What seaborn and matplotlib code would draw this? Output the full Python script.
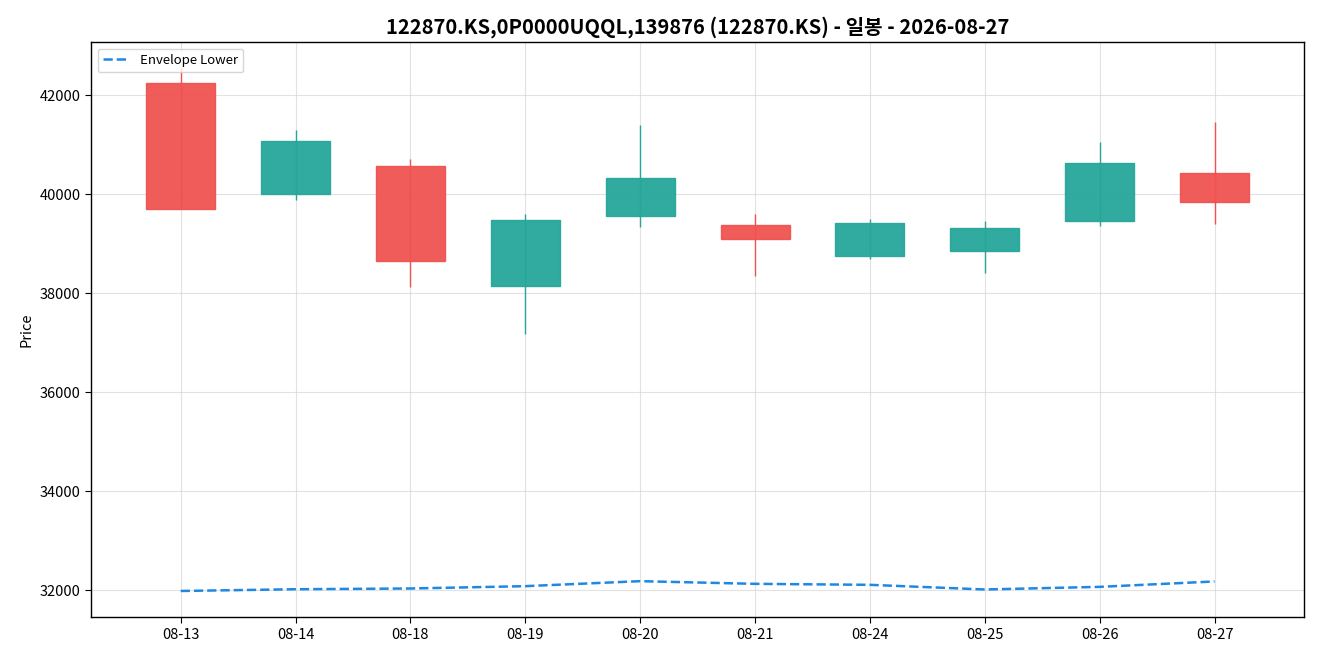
import matplotlib
matplotlib.use("Agg")
import matplotlib.pyplot as plt
import seaborn as sns
import numpy as np
import pandas as pd

dates = ["08-13", "08-14", "08-18", "08-19", "08-20", "08-21", "08-24", "08-25", "08-26", "08-27"]
open_ = [42250, 40000, 40560, 38140, 39550, 39370, 38750, 38850, 39450, 40420]
close = [39700, 41070, 38650, 39470, 40320, 39090, 39410, 39310, 40620, 39850]
high = [42540, 41300, 40710, 39600, 41400, 39600, 39500, 39460, 41050, 41460]
low = [39700, 39890, 38130, 37180, 39340, 38340, 38690, 38400, 39350, 39390]
env_lower = [31990, 32025, 32040, 32087, 32188, 32134, 32114, 32020, 32073, 32182]

sns.set_style("white")
plt.rcParams['font.family'] = ['Noto Sans CJK KR', 'DejaVu Sans']
plt.rcParams['text.color'] = 'black'
plt.rcParams['axes.labelcolor'] = 'black'
plt.rcParams['xtick.color'] = 'black'
plt.rcParams['ytick.color'] = 'black'

UP = "#26a69a"
DOWN = "#ef5350"

df = pd.DataFrame({"date": dates, "open": open_, "close": close,
                   "high": high, "low": low, "env": env_lower})
df["x"] = np.arange(len(df))

fig, ax = plt.subplots(figsize=(13.2, 6.6), dpi=100)

colors = [UP if c >= o else DOWN for o, c in zip(df["open"], df["close"])]
bottoms = np.minimum(df["open"], df["close"])
heights = np.abs(df["close"] - df["open"])

ax.vlines(df["x"], df["low"], df["high"], colors=colors, linewidth=1, zorder=2)
ax.bar(df["x"], heights, bottom=bottoms, width=0.6, color=colors,
       edgecolor=colors, linewidth=1, alpha=0.95, zorder=3)

sns.lineplot(data=df, x="x", y="env", ax=ax, color="#1e88e5", linestyle="--",
             linewidth=1.8, label="Envelope Lower", zorder=4)

ax.set_xticks(df["x"])
ax.set_xticklabels(dates)
ax.set_xlim(-0.78, len(df) - 1 + 0.78)
ax.margins(y=0.05)
ax.grid(True, color="#d0d0d0", alpha=0.6, linewidth=0.8)
ax.set_axisbelow(True)
for s in ax.spines.values():
    s.set_color("black")
    s.set_linewidth(1)
ax.tick_params(axis="both", which="both", length=4, color="black", labelcolor="black",
               labelsize=10.5, left=True, bottom=True)
ax.set_xlabel("")
ax.set_ylabel("Price", fontsize=10.5, color="black")
ax.set_title("122870.KS,0P0000UQQL,139876 (122870.KS) - 일봉 - 2026-08-27",
             fontsize=14.5, fontweight="bold", color="black")
leg = ax.legend(loc="upper left", fontsize=9.5, frameon=True)
for t in leg.get_texts():
    t.set_color("black")

fig.subplots_adjust(left=0.069, right=0.988, top=0.936, bottom=0.065)
fig.savefig("out.png", dpi=100)
